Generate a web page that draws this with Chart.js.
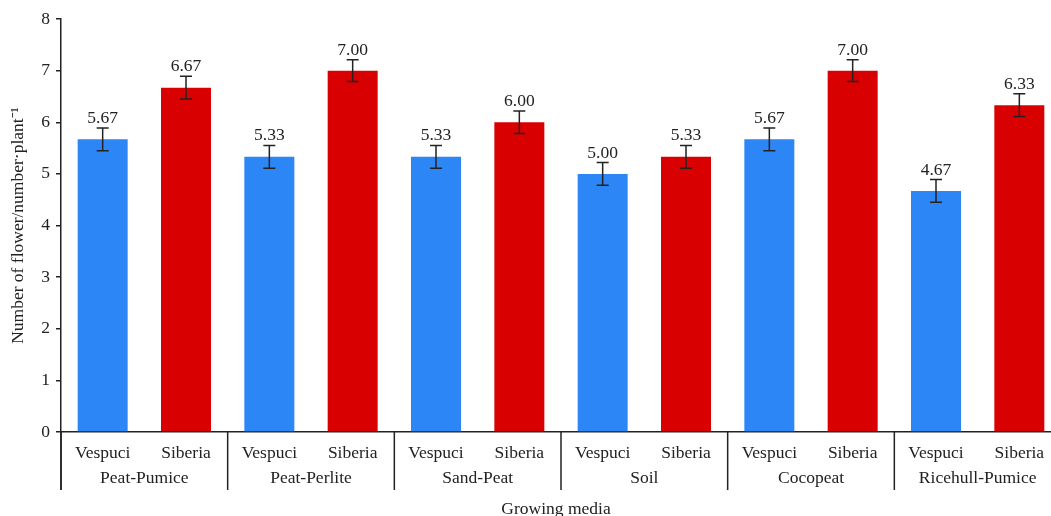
<!DOCTYPE html>
<html lang="en">
<head>
    <meta charset="UTF-8">
    <title>Number of flowers by growing media</title>
    <script src="https://cdn.jsdelivr.net/npm/chart.js@4.4.1/dist/chart.umd.min.js"></script>
</head>
<style>
    body {
        margin: 0;
        overflow: hidden;
        background: #fff;
    }

    .wrap {
        position: relative;
        width: 1062px;
        height: 516px;
    }
</style>
<body>
    <div class="wrap">
        <canvas id="myChart"></canvas>
    </div>

    <script>
        const media = ['Peat-Pumice', 'Peat-Perlite', 'Sand-Peat', 'Soil', 'Cocopeat', 'Ricehull-Pumice']
        const cultivars = ['Vespuci', 'Siberia']
        const vespuci = [5.67, 5.33, 5.33, 5.00, 5.67, 4.67]
        const siberia = [6.67, 7.00, 6.00, 5.33, 7.00, 6.33]
        const vespuciErr = [0.22, 0.22, 0.22, 0.22, 0.22, 0.22]
        const siberiaErr = [0.22, 0.21, 0.22, 0.22, 0.21, 0.22]
        const yTicks = [0, 1, 2, 3, 4, 5, 6, 7, 8]

        const BLUE = '#2d86f5'
        const RED = '#d80000'
        const INK = '#222'
        const FONT = '"Liberation Serif", "Times New Roman", serif'
        const SIZE = 17.5

        // flatten groups into one bar per cultivar
        const labels = [], values = [], errors = [], colors = []
        media.forEach((m, i) => {
            labels.push(cultivars[0], cultivars[1])
            values.push(vespuci[i], siberia[i])
            errors.push(vespuciErr[i], siberiaErr[i])
            colors.push(BLUE, RED)
        })

        const extras = {
            id: 'extras',
            afterDatasetsDraw(chart) {
                const ctx = chart.ctx
                const x = chart.scales.x
                const y = chart.scales.y
                const area = chart.chartArea
                ctx.save()
                ctx.strokeStyle = INK
                ctx.fillStyle = INK
                ctx.lineWidth = 1.5

                // error bars + value labels
                values.forEach((v, i) => {
                    const cx = x.getPixelForValue(i)
                    const top = y.getPixelForValue(v + errors[i])
                    const bot = y.getPixelForValue(v - errors[i])
                    ctx.beginPath()
                    ctx.moveTo(cx, top); ctx.lineTo(cx, bot)
                    ctx.moveTo(cx - 6, top); ctx.lineTo(cx + 6, top)
                    ctx.moveTo(cx - 6, bot); ctx.lineTo(cx + 6, bot)
                    ctx.stroke()
                    ctx.font = SIZE + 'px ' + FONT
                    ctx.textAlign = 'center'
                    ctx.textBaseline = 'alphabetic'
                    ctx.fillText(v.toFixed(2), cx, top - 5)
                })

                // group separators and group names
                const half = (x.getPixelForValue(1) - x.getPixelForValue(0)) / 2
                ctx.beginPath()
                for (let g = 0; g <= media.length; g++) {
                    const sx = g < media.length ? x.getPixelForValue(g * 2) - half : area.right
                    ctx.moveTo(sx, area.bottom); ctx.lineTo(sx, 490)
                }
                ctx.stroke()

                ctx.font = SIZE + 'px ' + FONT
                ctx.textAlign = 'center'
                ctx.textBaseline = 'middle'
                media.forEach((m, g) => {
                    const gx = (x.getPixelForValue(g * 2) + x.getPixelForValue(g * 2 + 1)) / 2
                    ctx.fillText(m, gx, 478)
                })
                ctx.fillText('Growing media', (area.left + 1051) / 2, 509)
                ctx.restore()
            }
        }

        const chart = new Chart('myChart', {
            type: 'bar',
            data: {
                labels: labels,
                datasets: [{
                    data: values,
                    backgroundColor: colors,
                    borderWidth: 0,
                    barPercentage: 0.6,
                    categoryPercentage: 1
                }]
            },
            options: {
                responsive: true,
                maintainAspectRatio: false,
                animation: false,
                layout: {
                    padding: { top: 19, right: 1, bottom: 0, left: 0 }
                },
                plugins: {
                    legend: { display: false },
                    tooltip: { enabled: false }
                },
                scales: {
                    x: {
                        grid: { display: false },
                        border: { color: INK, width: 1.5 },
                        ticks: {
                            color: INK,
                            padding: 3,
                            maxRotation: 0,
                            autoSkip: false,
                            font: { family: FONT, size: SIZE }
                        },
                        afterFit: (s) => { s.height = 84 }
                    },
                    y: {
                        min: 0,
                        max: 8,
                        afterBuildTicks: (s) => { s.ticks = yTicks.map(v => ({ value: v })) },
                        grid: { drawOnChartArea: false, tickLength: 5, color: INK, lineWidth: 1.5 },
                        border: { color: INK, width: 1.5 },
                        ticks: {
                            color: INK,
                            padding: 6,
                            font: { family: FONT, size: SIZE }
                        },
                        title: {
                            display: true,
                            text: 'Number of flower/number·plant⁻¹',
                            color: INK,
                            padding: { top: 8, bottom: 0 },
                            font: { family: FONT, size: SIZE }
                        },
                        afterFit: (s) => { s.width = 61 }
                    }
                }
            },
            plugins: [extras]
        })

        // extend the y axis line down through the label rows
        Chart.register({
            id: 'axisExtend',
            afterDraw(c) {
                const a = c.chartArea
                c.ctx.save()
                c.ctx.strokeStyle = INK
                c.ctx.lineWidth = 1.5
                c.ctx.beginPath()
                c.ctx.moveTo(a.left, a.bottom)
                c.ctx.lineTo(a.left, 490)
                c.ctx.stroke()
                c.ctx.restore()
            }
        })
        chart.update()
    </script>
</body>
</html>
